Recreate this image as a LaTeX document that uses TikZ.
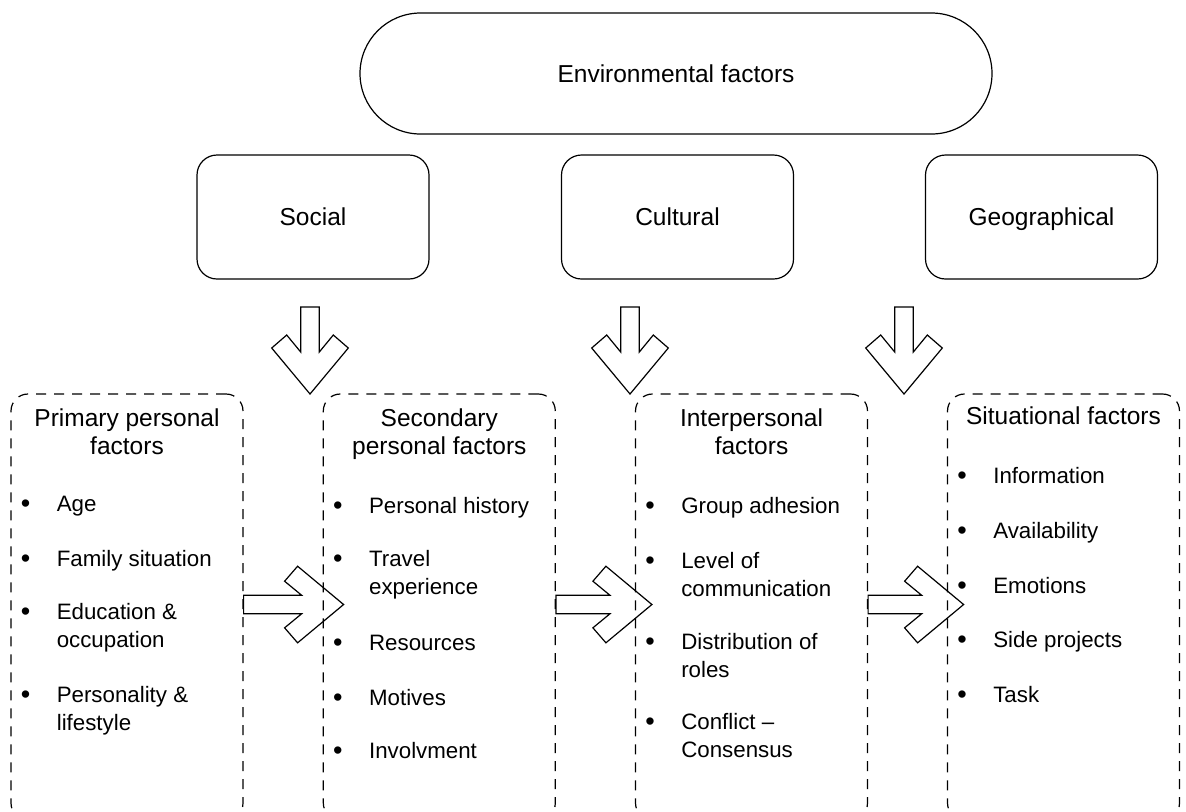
\documentclass[tikz,border=0pt]{standalone}
\usepackage{fontspec}
\setmainfont{Liberation Sans}
\usetikzlibrary{calc,positioning}

\tikzset{
  outline/.style={draw, line width=0.6pt},
  envbox/.style={outline, rectangle, rounded corners=30.25pt, minimum width=316pt,
    minimum height=60.5pt, inner sep=0pt, text height=8.8pt, text depth=0pt},
  groupbox/.style={outline, rectangle, rounded corners=10pt, minimum width=116pt,
    minimum height=62pt, inner sep=0pt, text height=8.8pt, text depth=0pt},
  factorbox/.style={outline, dash pattern=on 5pt off 4pt, rounded corners=8.5pt,
    minimum width=116pt, minimum height=213pt, inner sep=0pt},
  boxtitle/.style={anchor=base, align=center, inner sep=0pt},
  entry/.style={anchor=base west, align=left, inner sep=0pt, xshift=23pt,
    font=\fontsize{11.15}{14}\selectfont},
  pics/fatarrow/.style={code={
    \draw[outline] (0,-9.3) -- (#1,-9.3) -- (#1-17,-23.3) -- (#1-4,-38.3) -- (#1+42,0)
      -- (#1-4,38.3) -- (#1-17,23.3) -- (#1,9.3) -- (0,9.3) -- cycle;
  }}
}
\newcommand{\bul}{\llap{\makebox[18pt][l]{\raisebox{-0.8pt}{\fontsize{13.5}{14}\selectfont\textbullet}}}}

\begin{document}
\begin{tikzpicture}[x=0.5pt, y=-0.5pt, font=\fontsize{12.25}{14}\selectfont]
  \useasboundingbox (0,0) rectangle (1186,811);

  % top row
  \node[envbox] (env) at (676,73.5) {Environmental factors};
  \node[groupbox] (social) at (313,217) {Social};
  \node[groupbox] (cultural) at (677.5,217) {Cultural};
  \node[groupbox] (geo) at (1041.5,217) {Geographical};

  % factor boxes
  \node[factorbox] (primary) at (127,607) {};
  \node[factorbox] (secondary) at (439.3,607) {};
  \node[factorbox] (inter) at (751.5,607) {};
  \node[factorbox] (situ) at (1063.5,607) {};

  % titles (base = last line)
  \node[boxtitle] at ([yshift=-30.5pt]primary.north) {Primary personal\\factors};
  \node[boxtitle] at ([yshift=-30.5pt]secondary.north) {Secondary\\personal factors};
  \node[boxtitle] at ([yshift=-30.5pt]inter.north) {Interpersonal\\factors};
  \node[boxtitle] at ([yshift=-15.5pt]situ.north) {Situational factors};

  % lists, y = baseline of last line
  \foreach \y/\t in {511/Age, 566/Family situation, 647/Education \&\\occupation,
      730/Personality \&\\lifestyle}
    \node[entry] at (primary.west |- 0,\y) {\bul\t};
  \foreach \y/\t in {513/Personal history, 594/Travel\\experience, 650/Resources,
      705/Motives, 758/Involvment}
    \node[entry] at (secondary.west |- 0,\y) {\bul\t};
  \foreach \y/\t in {513/Group adhesion, 596/Level of\\communication,
      677/Distribution of\\roles, 757/Conflict –\\Consensus}
    \node[entry] at (inter.west |- 0,\y) {\bul\t};
  \foreach \y/\t in {483/Information, 538/Availability, 593/Emotions,
      647/Side projects, 702/Task}
    \node[entry] at (situ.west |- 0,\y) {\bul\t};

  % block arrows
  \foreach \x in {310,630,904}
    \pic[rotate=-90] at (\x,307) {fatarrow=45};
  \pic at ([yshift=1.25pt]primary.east) {fatarrow=58};
  \pic at ([yshift=1.25pt]secondary.east) {fatarrow=54};
  \pic at ([yshift=1.25pt]inter.east) {fatarrow=53.5};
\end{tikzpicture}
\end{document}
